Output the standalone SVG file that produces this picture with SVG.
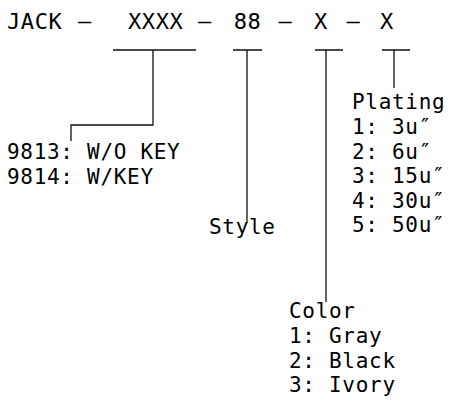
<svg xmlns="http://www.w3.org/2000/svg" width="452" height="403" viewBox="0 0 452 403">
<style>
text { font-family: "DejaVu Sans Mono", "Liberation Mono", monospace; fill: #000; }
.top { font-size: 22px; letter-spacing: 0.6px; }
.lbl { font-size: 21px; letter-spacing: 0.7px; }
.mid { text-anchor: middle; }
.wire { stroke: #111; stroke-width: 1.3; fill: none; }
</style>
<rect width="452" height="403" fill="#fff"/>
<g id="part-number" class="top">
  <text x="7" y="29">JACK</text>
  <text class="mid" x="85" y="28">—</text>
  <text x="128" y="29">XXXX</text>
  <text class="mid" x="205" y="28">—</text>
  <text class="mid" x="247.5" y="29">88</text>
  <text class="mid" x="285.5" y="28">—</text>
  <text class="mid" x="321" y="29">X</text>
  <text class="mid" x="353.5" y="28">—</text>
  <text class="mid" x="387" y="29">X</text>
</g>
<g id="connectors" class="wire">
  <path d="M113 50H196M153 50V125H71V141"/>
  <path d="M233 50H262M247 50V223"/>
  <path d="M315 50H343M326 50V302"/>
  <path d="M382 50H410M394 50V88"/>
</g>
<g id="key" class="lbl">
  <text x="7" y="159">9813: W/O KEY</text>
  <text x="7" y="183.5">9814: W/KEY</text>
</g>
<g id="style" class="lbl">
  <text x="209" y="234">Style</text>
</g>
<g id="plating" class="lbl">
  <text x="352" y="109">Plating</text>
  <text x="352" y="134">1: 3u″</text>
  <text x="352" y="158.5">2: 6u″</text>
  <text x="352" y="183">3: 15u″</text>
  <text x="352" y="207.5">4: 30u″</text>
  <text x="352" y="232">5: 50u″</text>
</g>
<g id="color" class="lbl">
  <text x="289" y="318">Color</text>
  <text x="289" y="343">1: Gray</text>
  <text x="289" y="367.5">2: Black</text>
  <text x="289" y="392">3: Ivory</text>
</g>
</svg>
